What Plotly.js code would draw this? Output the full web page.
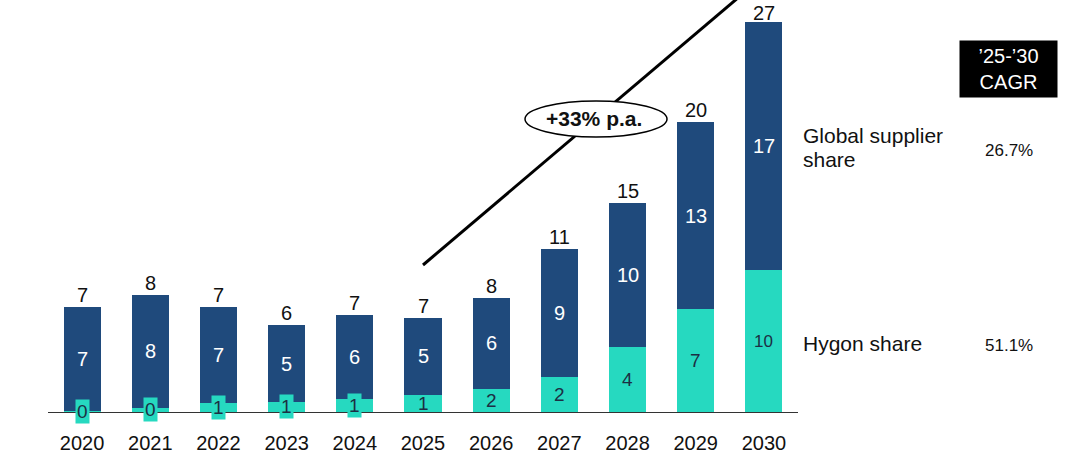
<!DOCTYPE html>
<html>
<head>
<meta charset="utf-8">
<script src="https://cdn.plot.ly/plotly-3.0.1.min.js"></script>
<style>
  html, body { margin: 0; padding: 0; background: #fff; }
  #chart { width: 1080px; height: 460px; }
</style>
</head>
<body>
<div id="chart"></div>
<script>
const years = ['2020', '2021', '2022', '2023', '2024', '2025', '2026', '2027', '2028', '2029', '2030'];
const hygon = [0.1, 0.3, 0.6, 0.7, 0.9, 1.2, 1.6, 2.4, 4.5, 7.1, 9.8];
const globalSupplier = [7.2, 7.8, 6.7, 5.3, 5.8, 5.3, 6.3, 8.9, 10.0, 13.0, 17.2];
const hygonLabels = ['0', '0', '1', '1', '1', '1', '2', '2', '4', '7', '10'];
const globalLabels = ['7', '8', '7', '5', '6', '5', '6', '9', '10', '13', '17'];
const totalLabels = ['7', '8', '7', '6', '7', '7', '8', '11', '15', '20', '27'];
const cagrLabels = ['26.7%', '51.1%'];

const BLUE = '#1f4a7c';
const TEAL = '#26d9c0';
const FONT = 'Arial, "Liberation Sans", sans-serif';

const totals = years.map((_, i) => hygon[i] + globalSupplier[i]);

const annotations = [];

years.forEach((_, i) => {
  // total on top (last one nudged down so it stays inside the page)
  annotations.push({
    x: i, y: totals[i], text: totalLabels[i],
    xref: 'x', yref: 'y', xanchor: 'center', yanchor: 'bottom',
    yshift: i === 10 ? -3 : 0, borderpad: 0,
    showarrow: false, font: { family: FONT, size: 20, color: '#111' },
  });
  // global supplier value
  annotations.push({
    x: i, y: hygon[i] + globalSupplier[i] / 2, text: globalLabels[i],
    xref: 'x', yref: 'y', xanchor: 'center', yanchor: 'middle', showarrow: false,
    font: { family: FONT, size: 20, color: '#fff' },
  });
  // hygon value, boxed when the segment is too thin
  const small = i < 5;
  annotations.push({
    x: i, y: hygon[i] / 2, text: hygonLabels[i],
    xref: 'x', yref: 'y', xanchor: 'center', yanchor: 'middle', showarrow: false,
    bgcolor: small ? TEAL : 'rgba(0,0,0,0)',
    borderpad: small ? 1 : 0,
    font: { family: FONT, size: i === 10 ? 17 : 19, color: '#1c2f44' },
  });
});

// growth label inside ellipse
annotations.push({
  x: 7.51, y: 20.29, xref: 'x', yref: 'y', xanchor: 'center', yanchor: 'middle',
  text: '<b>+33% p.a.</b>', showarrow: false,
  font: { family: FONT, size: 21, color: '#111' },
});

// right side legend + CAGR column
const side = (text, px, py, size, extra) => Object.assign({
  x: (px - 48) / 750, y: (412 - py) / 412, xref: 'paper', yref: 'paper',
  xanchor: 'center', yanchor: 'middle', text, showarrow: false,
  font: { family: FONT, size, color: '#111' },
}, extra || {});

annotations.push(
  side('’25-’30<br>CAGR', 1008.5, 69.5, 20, {
    bgcolor: '#000', width: 97, height: 56, borderpad: 0, align: 'center',
    font: { family: FONT, size: 20, color: '#fff' },
  }),
  side('Global supplier', 801, 135, 21, { xanchor: 'left' }),
  side('share', 801, 159, 21, { xanchor: 'left' }),
  side('Hygon share', 801, 343, 21, { xanchor: 'left' }),
  side(cagrLabels[0], 1009, 151, 17),
  side(cagrLabels[1], 1009, 345, 17),
);

const traces = [
  {
    type: 'bar', name: 'Hygon share', x: years.map((_, i) => i), y: hygon,
    marker: { color: TEAL }, hoverinfo: 'skip',
  },
  {
    type: 'bar', name: 'Global supplier share', x: years.map((_, i) => i), y: globalSupplier,
    marker: { color: BLUE }, hoverinfo: 'skip',
  },
];

Plotly.newPlot('chart', traces, {
  width: 1080,
  height: 460,
  barmode: 'stack',
  bargap: 0.457,
  showlegend: false,
  margin: { l: 48, r: 282, t: 0, b: 48 },
  paper_bgcolor: '#fff',
  plot_bgcolor: '#fff',
  xaxis: {
    range: [-0.5, 10.5],
    tickmode: 'array',
    tickvals: years.map((_, i) => i),
    ticktext: years,
    showgrid: false,
    zeroline: false,
    showline: true,
    linecolor: '#333',
    linewidth: 1,
    ticks: '',
    ticklabelstandoff: 13,
    tickfont: { family: FONT, size: 20, color: '#111' },
    fixedrange: true,
  },
  yaxis: {
    range: [0, 28.53],
    visible: false,
    fixedrange: true,
  },
  shapes: [
    {
      type: 'line', xref: 'x', yref: 'y',
      x0: 5, y0: 10.18, x1: 9.8, y1: 29.4,
      line: { color: '#000', width: 3 }, layer: 'below',
    },
    {
      type: 'circle', xref: 'x', yref: 'y',
      x0: 6.496, x1: 8.579, y0: 19.04, y1: 21.54,
      fillcolor: '#fff', line: { color: '#000', width: 1.5 }, layer: 'above',
    },
  ],
  annotations,
}, { displayModeBar: false, staticPlot: true });
</script>
</body>
</html>
